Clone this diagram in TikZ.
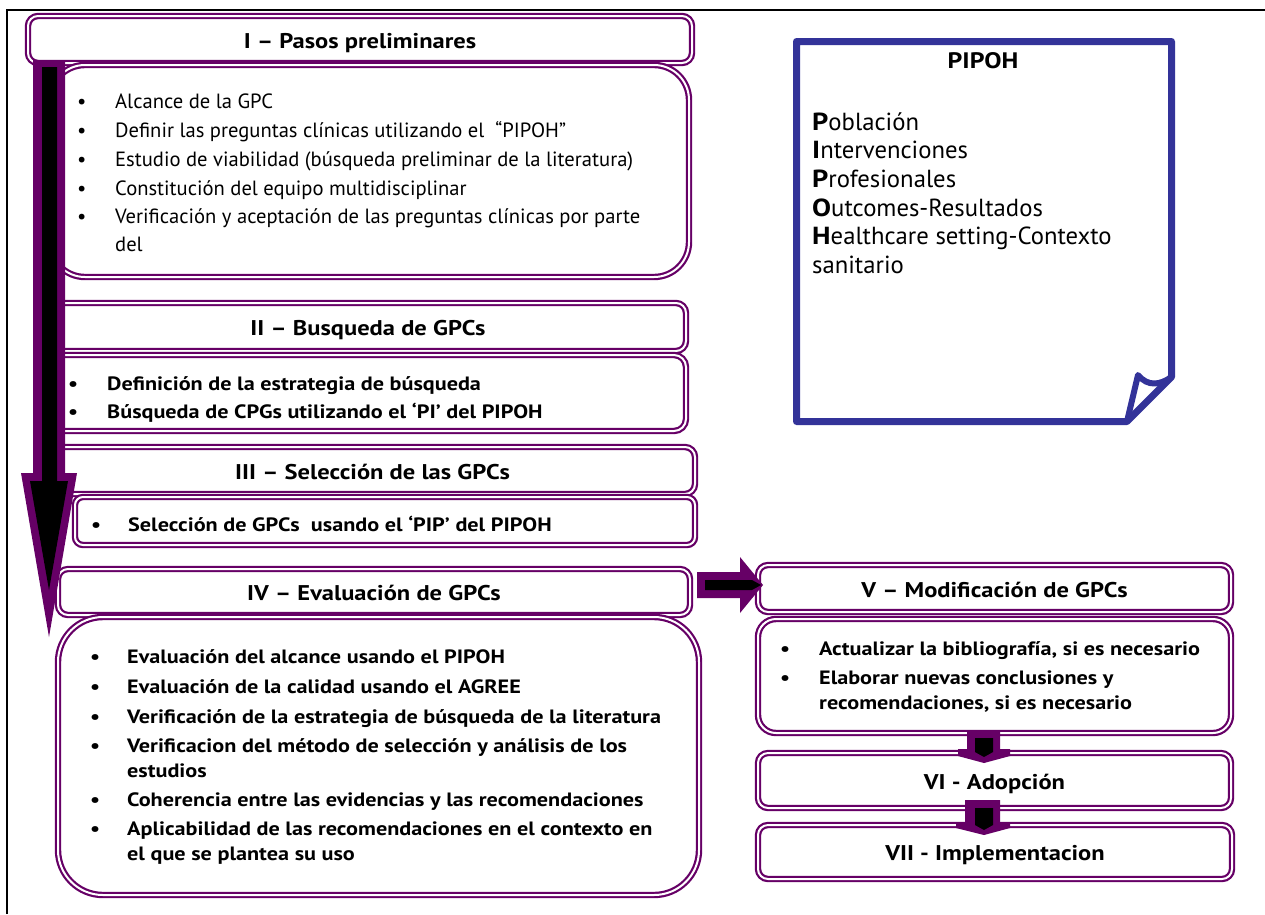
\documentclass[tikz,border=0pt]{standalone}
\usepackage{fontspec}
\setmainfont{PT Sans}[BoldFeatures={FakeStretch=1.15}]
\definecolor{pur}{RGB}{102,0,102}
\definecolor{pblue}{RGB}{51,51,153}
\begin{document}
\begin{tikzpicture}[x=1pt,y=-1pt,
  box/.style={draw=pur, line width=2.2pt, double=white, double distance=2pt, fill=white, inner sep=0pt},
  hdr/.style={box, rounded corners=10pt, text height=18pt, text depth=1pt, font=\fontsize{21.3}{24}\selectfont\bfseries},
  reg/.style={anchor=base west, inner sep=0pt, font=\fontsize{20.6}{24}\selectfont},
  bld/.style={anchor=base west, inner sep=0pt, font=\fontsize{19.3}{22}\selectfont\bfseries},
  pip/.style={anchor=base west, inner sep=0pt, font=\fontsize{24.7}{28}\selectfont},
  ttl/.style={anchor=base, inner sep=0pt, font=\fontsize{22.4}{26}\selectfont\bfseries}]
\useasboundingbox (0,0) rectangle (1265,914);
% page frame
\draw[line width=1.3pt] (7,914) -- (7,10) -- (1265,10);

% boxes
\node[hdr, minimum width=664pt, minimum height=47pt] (h1) at (360,39.5) {I – Pasos preliminares};
\node[box, rounded corners=35pt, minimum width=639pt, minimum height=212pt] (b1) at (369.5,171) {};
\node[hdr, minimum width=636pt, minimum height=48pt] (h2) at (368,327) {II – Busqueda de GPCs};
\node[box, rounded corners=12pt, minimum width=636pt, minimum height=76pt] (b2) at (368,393) {};
\node[hdr, minimum width=645pt, minimum height=47pt] (h3) at (372.5,470.5) {III – Selección de las GPCs};
\node[box, rounded corners=8pt, minimum width=620pt, minimum height=48pt] (b3) at (385,521) {};
\node[hdr, minimum width=632pt, minimum height=46pt] (h4) at (374,592) {IV – Evaluación de GPCs};
\node[box, rounded corners=45pt, minimum width=641pt, minimum height=278pt] (b4) at (378.5,756) {};

\node[hdr, minimum width=473pt, minimum height=47pt] (h5) at (994.5,588.5) {V – Modificación de GPCs};
\node[box, rounded corners=18pt, minimum width=473pt, minimum height=114pt] (b5) at (994.5,676) {};
\node[hdr, minimum width=473pt, minimum height=55pt] (h6) at (994.5,780.5) {VI - Adopción};
\node[hdr, minimum width=474pt, minimum height=54pt] (h7) at (995,852) {VII - Implementacion};

% text box I
\node[reg] (t1a) at (77,108) {\makebox[38pt][l]{•}Alcance de la GPC};
\node[reg] (t1b) at (77,137) {\makebox[38pt][l]{•}Definir las preguntas clínicas utilizando el\ \ “PIPOH”};
\node[reg] (t1c) at (77,166) {\makebox[38pt][l]{•}Estudio de viabilidad (búsqueda preliminar de la literatura)};
\node[reg] (t1d) at (77,195) {\makebox[38pt][l]{•}Constitución del equipo multidisciplinar};
\node[reg] (t1e) at (77,223) {\makebox[38pt][l]{•}Verificación y aceptación de las preguntas clínicas por parte};
\node[reg] (t1f) at (115,251) {del};

% text box II (last line cut at the bottom as in the original)
\node[bld] (t2a) at (68,390) {\makebox[39pt][l]{•}Definición de la estrategia de búsqueda};
\begin{scope}
\clip (50,395) rectangle (686,421);
\node[bld] (t2b) at (68,418) {\makebox[39pt][l]{•}Búsqueda de CPGs utilizando el ‘PI’ del PIPOH};
\end{scope}

% text box III
\node[bld] (t3a) at (91,531) {\makebox[37pt][l]{•}Selección de GPCs\ \ usando el ‘PIP’ del PIPOH};

% text box IV
\node[bld] (t4a) at (90,663) {\makebox[37pt][l]{•}Evaluación del alcance usando el PIPOH};
\node[bld] (t4b) at (90,693) {\makebox[37pt][l]{•}Evaluación de la calidad usando el AGREE};
\node[bld] (t4c) at (90,723) {\makebox[37pt][l]{•}Verificación de la estrategia de búsqueda de la literatura};
\node[bld] (t4d) at (90,752) {\makebox[37pt][l]{•}Verificacion del método de selección y análisis de los};
\node[bld] (t4e) at (127,777) {estudios};
\node[bld] (t4f) at (90,806) {\makebox[37pt][l]{•}Coherencia entre las evidencias y las recomendaciones};
\node[bld] (t4g) at (90,835) {\makebox[37pt][l]{•}Aplicabilidad de las recomendaciones en el contexto en};
\node[bld] (t4h) at (127,860) {el que se plantea su uso};

% text box V
\node[bld] (t5a) at (780,655) {\makebox[39pt][l]{•}Actualizar la bibliografía, si es necesario};
\node[bld] (t5b) at (780,684) {\makebox[39pt][l]{•}Elaborar nuevas conclusiones y};
\node[bld] (t5c) at (819,709) {recomendaciones, si es necesario};

% PIPOH note
\draw[pblue, line width=7pt, line join=round]
  (796.5,41.5) -- (1171.5,41.5) -- (1171.5,377) -- (1127,421.5) -- (796.5,421.5) -- cycle;
\draw[pblue, line width=6pt, line join=round]
  (1127,421.5) -- (1138,375) .. controls (1148,387) and (1160,385) .. (1171.5,377);
\node[ttl] (pt) at (983,68) {PIPOH};
\node[pip] (p1) at (812,130) {\textbf{P}oblación};
\node[pip] (p2) at (812,158.7) {\textbf{I}ntervenciones};
\node[pip] (p3) at (812,187.4) {\textbf{P}rofesionales};
\node[pip] (p4) at (812,216.1) {\textbf{O}utcomes-Resultados};
\node[pip] (p5) at (812,244.8) {\textbf{H}ealthcare setting-Contexto};
\node[pip] (p6) at (812,273.5) {sanitario};

% big down arrow
\fill[pur] (33,60) -- (65,60) -- (65,473) -- (77,473) -- (49,637) -- (21,473) -- (33,473) -- cycle;
\fill[black] (42,67) -- (57,67) -- (57,481) -- (68,481) -- (49,590) -- (30,481) -- (42,481) -- cycle;

% arrow IV -> V
\fill[pur] (697,572) -- (740,572) -- (740,557) -- (763,585) -- (740,613) -- (740,598) -- (697,598) -- cycle;
\fill[black] (705,580) -- (752,580) -- (761,585) -- (752,590) -- (705,590) -- cycle;

% arrow V -> VI
\fill[pur] (967,730) -- (1000,730) -- (1000,749) -- (1010,749) -- (1010,756) -- (984,763) -- (958,756) -- (958,749) -- (967,749) -- cycle;
\fill[black] (975,738) -- (993,738) -- (993,752) -- (984,757) -- (975,752) -- cycle;
% arrow VI -> VII
\fill[pur] (965,800) -- (1000,800) -- (1000,822) -- (1010,822) -- (1010,828) -- (984,835) -- (956,828) -- (956,822) -- (965,822) -- cycle;
\fill[black] (975,808) -- (993,808) -- (993,825) -- (984,830) -- (975,825) -- cycle;
\end{tikzpicture}
\end{document}
